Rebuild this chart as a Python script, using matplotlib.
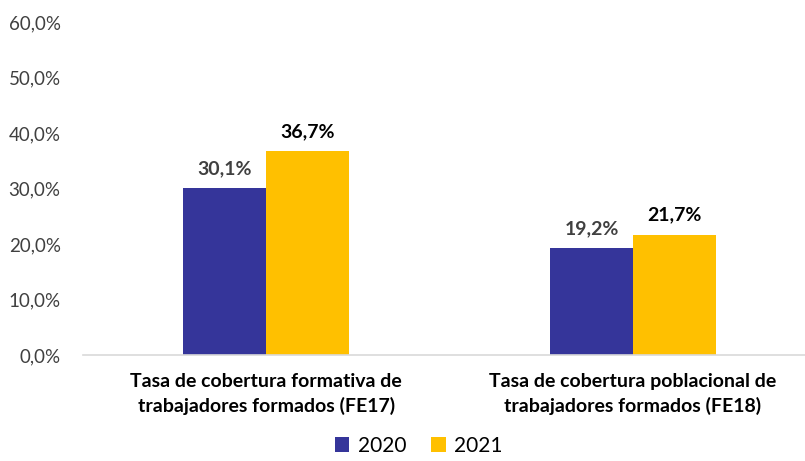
import matplotlib.pyplot as plt
from matplotlib.ticker import FuncFormatter

plt.rcParams['font.family'] = ['Lato', 'DejaVu Sans']

categories = ['Tasa de cobertura formativa de\ntrabajadores formados (FE17)',
              'Tasa de cobertura poblacional de\ntrabajadores formados (FE18)']
years = ['2020', '2021']
values_2020 = [30.1, 19.2]
values_2021 = [36.7, 21.7]

BLUE = '#35359A'
GOLD = '#FFC000'

fig = plt.figure(figsize=(8.05, 4.61), dpi=100)
ax = fig.add_axes([0.103, 0.230, 0.897, 0.722])

x = list(range(len(categories)))
w = 0.226
b1 = ax.bar([i - w / 2 for i in x], values_2020, w, color=BLUE, label=years[0])
b2 = ax.bar([i + w / 2 for i in x], values_2021, w, color=GOLD, label=years[1])

for rect, v in zip(b1, values_2020):
    ax.text(rect.get_x() + rect.get_width() / 2, v + 2.0, f'{v:.1f}%'.replace('.', ','),
            ha='center', va='bottom', fontsize=14, fontweight='bold', color='#404040')
for rect, v in zip(b2, values_2021):
    ax.text(rect.get_x() + rect.get_width() / 2, v + 2.0, f'{v:.1f}%'.replace('.', ','),
            ha='center', va='bottom', fontsize=14, fontweight='bold', color='black')

ax.set_ylim(0, 60)
ax.set_yticks(range(0, 61, 10))
ax.yaxis.set_major_formatter(FuncFormatter(lambda v, p: f'{v:.1f}%'.replace('.', ',')))
ax.set_xlim(-0.5, 1.469)
ax.set_xticks(x)
ax.set_xticklabels(categories, fontsize=14, fontweight='bold', color='black', linespacing=1.45)

for s in ['top', 'right', 'left']:
    ax.spines[s].set_visible(False)
ax.spines['bottom'].set_color('#D9D9D9')
ax.spines['bottom'].set_linewidth(1.2)
ax.tick_params(axis='both', length=0)
ax.tick_params(axis='y', labelsize=13.5, labelcolor='#404040', pad=16)
ax.tick_params(axis='x', pad=13)

fig.legend(loc='lower center', bbox_to_anchor=(0.52, -0.03), ncol=2, frameon=False,
           fontsize=15, handlelength=0.7, handleheight=0.7, handletextpad=0.4, columnspacing=1.2)

fig.savefig('out.png', dpi=100)
